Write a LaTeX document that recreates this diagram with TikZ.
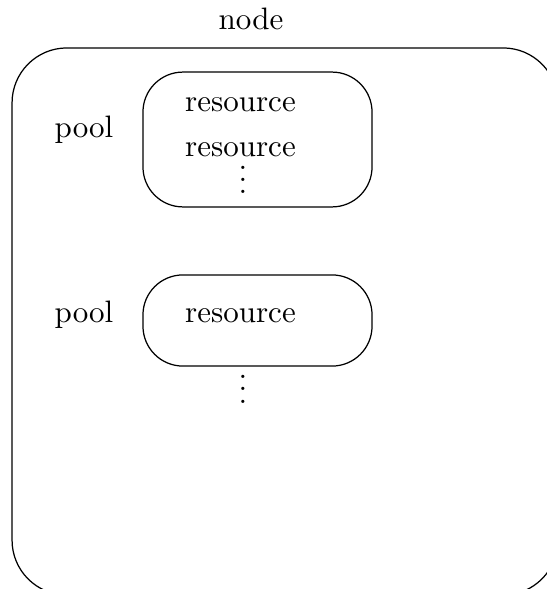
\documentclass[tikz,border=0pt]{standalone}
% three stacked dots without the top kern of \vdots
\newcommand{\stackdots}{\vbox{\baselineskip4pt\lineskiplimit0pt\hbox{.}\hbox{.}\hbox{.}}}
\begin{document}
\begin{tikzpicture}[x=0.3226pt,y=-0.3226pt,
    box/.style={draw,rectangle,inner sep=0pt,line width=0.4pt},
    lbl/.style={anchor=base,inner sep=0pt}]
  \useasboundingbox (0,0) rectangle (547,589);
  \clip (0,0) rectangle (547,589);
  % host node
  \node[box,rounded corners=17.7pt,minimum width=176.1pt,minimum height=176.5pt] (host) at (285,321.5) {};
  \node[lbl] (hostlabel) at (251,30) {node};
  % first pool
  \node[box,rounded corners=12.9pt,minimum width=73.9pt,minimum height=43.5pt] (poolA) at (257.5,139.5) {};
  \node[lbl] (poolAlabel) at (84,138) {pool};
  \node[lbl] (resA1) at (240.5,112) {resource};
  \node[lbl] (resA2) at (240.5,157) {resource};
  \node[lbl] (dotsA) at (243,194) {\stackdots};
  % second pool
  \node[box,rounded corners=12.9pt,minimum width=73.9pt,minimum height=29.4pt] (poolB) at (257.5,320.5) {};
  \node[lbl] (poolBlabel) at (84,322) {pool};
  \node[lbl] (resB1) at (240.5,322) {resource};
  \node[lbl] (dotsB) at (243,403) {\stackdots};
\end{tikzpicture}
\end{document}
